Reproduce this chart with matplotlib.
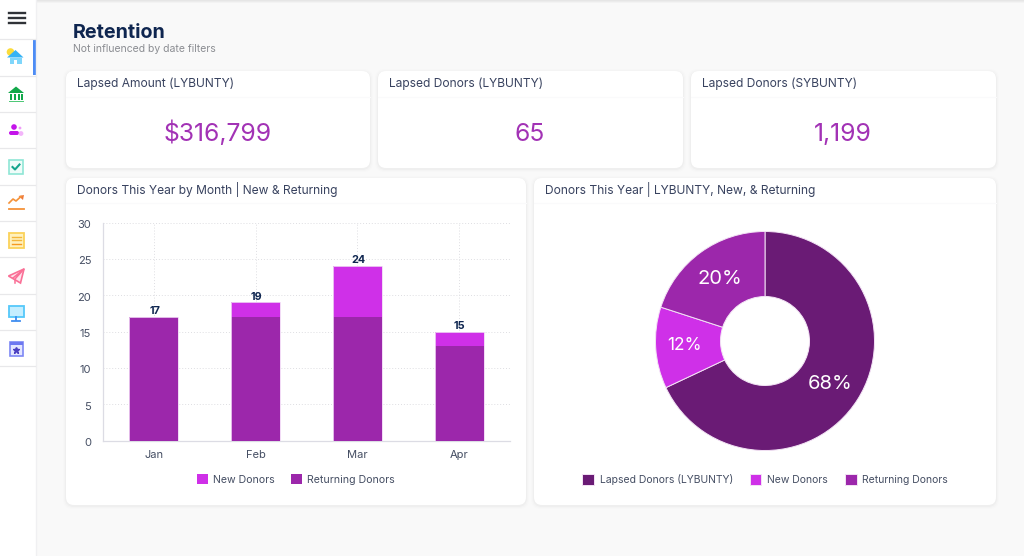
"""Retention dashboard: KPI cards, stacked bars by month and a donut."""
import matplotlib
matplotlib.use('Agg')
from matplotlib import pyplot as plt
from matplotlib.patches import Circle, FancyBboxPatch, Polygon, Rectangle
from matplotlib.transforms import ScaledTranslation
import numpy as np

W, H = 1024, 556

months = ['Jan', 'Feb', 'Mar', 'Apr']
returning_donors = [17, 17, 17, 13]
new_donors = [0, 2, 7, 2]
y_ticks = [0, 5, 10, 15, 20, 25, 30]

donut_labels = ['Lapsed Donors (LYBUNTY)', 'New Donors', 'Returning Donors']
donut_values = [68, 12, 20]

kpi_titles = ['Lapsed Amount (LYBUNTY)', 'Lapsed Donors (LYBUNTY)', 'Lapsed Donors (SYBUNTY)']
kpi_values = ['$316,799', '65', '1,199']

DARK = '#6a1b75'
MID = '#9c27ab'
LIGHT = '#cf30e8'
NAVY = '#0f2650'
TITLE = '#38425f'
TICK = '#454e63'

plt.rcParams['font.family'] = ['Inter', 'DejaVu Sans']


def px_axes(fig, left, top, right, bottom):
    """Axes placed with pixel edges measured from the top left of the figure."""
    return fig.add_axes([left / W, 1 - bottom / H, (right - left) / W, (bottom - top) / H])


def card(bg, left, top, right, bottom, title, line_y):
    for grow, alpha in ((3, 0.008), (2, 0.012), (1, 0.018)):
        bg.add_patch(FancyBboxPatch((left - grow, top - grow + 1), right - left + 2 * grow,
                                    bottom - top + 2 * grow,
                                    boxstyle='round,pad=0,rounding_size=9', fc='#000000',
                                    ec='none', alpha=alpha))
    bg.add_patch(FancyBboxPatch((left, top), right - left, bottom - top,
                                boxstyle='round,pad=0,rounding_size=8', fc='white', ec='none'))
    bg.plot([left, right], [line_y, line_y], color='#fafafb', lw=0.8)
    bg.text(left + 11, line_y - 13.5, title, fontsize=8.65, color=TITLE, va='center')


def draw_sidebar(bg):
    bg.add_patch(Rectangle((0, 0), 35.5, H, fc='white', ec='none'))
    bg.plot([36, 36], [0, H], color='#f0f0f2', lw=1)
    for y in [39, 76, 112, 148, 185, 221, 257, 294, 330, 366]:
        bg.plot([0, 35], [y, y], color='#e8e8ea', lw=0.9)
    bg.add_patch(Rectangle((33.4, 40), 2.1, 35, fc='#4d8cf5', ec='none'))
    for y in (12.5, 17.5, 22.5):
        bg.plot([9, 25], [y, y], color='#303338', lw=1.7)

    # home
    bg.add_patch(Circle((10.5, 52), 3.8, fc='#fbdc3c', ec='none'))
    bg.add_patch(Polygon([(7, 57.5), (15.5, 50), (23.5, 57.5)], fc='#36b3f5', ec='none'))
    bg.add_patch(Rectangle((9.5, 57.5), 12, 6.5, fc='#7fd6fb', ec='none'))
    bg.add_patch(Rectangle((14, 59.5), 2.5, 4.5, fc='white', ec='none'))
    # bank
    bg.add_patch(Polygon([(8, 93), (16, 86.5), (24, 93)], fc='#12a84a', ec='none'))
    for x in (10, 14, 18, 21):
        bg.add_patch(Rectangle((x, 94), 1.5, 5.5, fc='#12a84a', ec='none'))
    bg.add_patch(Rectangle((8.5, 100.5), 15, 1.5, fc='#4fc878', ec='none'))
    # people
    bg.add_patch(Circle((14, 127), 2.8, fc='#c414ea', ec='none'))
    bg.add_patch(FancyBboxPatch((9, 131), 10, 4, boxstyle='round,pad=0,rounding_size=2',
                                fc='#c414ea', ec='none'))
    bg.add_patch(Circle((20, 128), 1.4, fc='#ef9df8', ec='none'))
    bg.add_patch(Circle((21, 133.5), 2.4, fc='#f3b5fa', ec='none'))
    # checklist
    bg.add_patch(Rectangle((9, 160), 14, 14, fc='#effcf9', ec='#8fe6d6', lw=1.2))
    bg.plot([12.5, 15, 19.5], [167, 169.5, 164.5], color='#14a58d', lw=1.5)
    # trend
    bg.plot([9, 13, 16, 21], [203, 199, 201, 196.5], color='#f59238', lw=1.2)
    bg.add_patch(Polygon([(18.5, 196), (24, 195), (23, 200)], fc='#ee7a3a', ec='none'))
    bg.plot([8.5, 24], [209, 209], color='#f59238', lw=1.3)
    # report
    bg.add_patch(Rectangle((9, 232.5), 15, 15, fc='#fff1bd', ec='#fbd25a', lw=1.3))
    for y, color in ((236.5, '#f4b63a'), (240, '#f4b63a'), (243.5, '#f59a20')):
        bg.plot([12, 21], [y, y], color=color, lw=1)
    # paper plane
    bg.add_patch(Polygon([(8.5, 276), (24, 269), (20.5, 283)], fc='#ffe3ec', ec='#fa6f96', lw=1.2))
    bg.plot([13, 24, 15, 15], [278, 269, 279, 283], color='#fa6f96', lw=1.1)
    # monitor
    bg.add_patch(Rectangle((8.5, 306), 15.5, 11, fc='#c4eeff', ec='#55c8fa', lw=1.3))
    bg.plot([16, 16], [317, 320], color='#3f8df0', lw=1.3)
    bg.plot([12, 20], [320.5, 320.5], color='#3f8df0', lw=1.3)
    # calendar
    bg.add_patch(Rectangle((9.5, 342), 13.5, 14, fc='#e3e6ff', ec='#7d88f5', lw=1.2))
    bg.add_patch(Rectangle((9.5, 342), 13.5, 3, fc='#6d78f0', ec='none'))
    bg.plot([16], [350], marker='*', color='#4b3fc0', ms=5)


fig = plt.figure(figsize=(W / 100, H / 100), dpi=100, facecolor='#f9f9f9')

bg = fig.add_axes([0, 0, 1, 1])
bg.axis('off')
bg.imshow(np.linspace(0.9, 0.976, 4).reshape(-1, 1), extent=(0, W, 4, 0), cmap='gray',
          vmin=0, vmax=1, aspect='auto', zorder=0)
bg.set_xlim(0, W)
bg.set_ylim(H, 0)

draw_sidebar(bg)

bg.text(73, 32.5, 'Retention', fontsize=14.2, fontweight='bold', color=NAVY, va='center')
bg.text(73, 49.5, 'Not influenced by date filters', fontsize=7.5, color='#8b8d92', va='center')

kpi_edges = [(66, 370), (378, 683), (691, 996)]
for (left, right), title, value in zip(kpi_edges, kpi_titles, kpi_values):
    card(bg, left, 71, right, 168, title, 97)
    bg.text((left + right) / 2 - 0.5, 141, value, fontsize=17.8, color='#a232b5',
            ha='center', va='baseline')

card(bg, 66, 178, 526, 505, 'Donors This Year by Month | New & Returning', 203)
card(bg, 534, 178, 996, 505, 'Donors This Year | LYBUNTY, New, & Returning', 203)

# stacked bars
ax = px_axes(fig, 103, 222.5, 510, 440.5)
ax.patch.set_alpha(0)
x = np.arange(len(months))
totals = [ret + new for ret, new in zip(returning_donors, new_donors)]
bars_ret = ax.bar(x, returning_donors, width=0.48, color=MID, zorder=3, label='Returning Donors')
bars_new = ax.bar(x, new_donors, bottom=returning_donors, width=0.48, color=LIGHT, zorder=3,
                  label='New Donors')
ax.bar(x, totals, width=0.48, fill=False, edgecolor='#f0d5f5', linewidth=0.6, zorder=3)
for i, total in enumerate(totals):
    ax.annotate(str(total), (i, total), xytext=(0.5, 0.6), textcoords='offset points',
                ha='center', va='bottom', fontsize=7.8, fontweight='bold', color=NAVY, zorder=4)
ax.set_xlim(-0.5, 3.5)
ax.set_ylim(0, 30)
ax.set_xticks(x, months)
ax.set_yticks(y_ticks)
ax.grid(True, color='#dedee2', linestyle=(0, (1, 2)), linewidth=0.7, zorder=0)
ax.tick_params(length=0, labelsize=8, labelcolor=TICK, pad=8.5)
ax.tick_params(axis='x', pad=6.5)
drop = ScaledTranslation(0, -1.5 / 100, fig.dpi_scale_trans)
for label in ax.get_yticklabels():
    label.set_transform(label.get_transform() + drop)
for side in ('top', 'right'):
    ax.spines[side].set_visible(False)
for side in ('left', 'bottom'):
    ax.spines[side].set_color('#dcdce4')
    ax.spines[side].set_linewidth(0.9)
ax.legend(handles=[bars_new, bars_ret], loc='center', ncol=2, frameon=False,
          bbox_to_anchor=((296 - 103) / 407, (440.5 - 479.5) / 218), fontsize=7.6,
          labelcolor=TICK, handlelength=1.05, handleheight=1.05, handletextpad=0.5,
          columnspacing=1.5)

# donut
cx, cy, radius = 765, 341, 109.5
ax2 = px_axes(fig, cx - radius, cy - radius, cx + radius, cy + radius)
wedges, _, autotexts = ax2.pie(donut_values, colors=[DARK, LIGHT, MID], startangle=90,
                               counterclock=False, radius=1, autopct='%d%%', pctdistance=0.70,
                               wedgeprops=dict(width=65 / 109.5, edgecolor='#f3e3f5', linewidth=0.7),
                               textprops=dict(color='white', fontsize=14.5))
ax2.set_xlim(-1, 1)
ax2.set_ylim(-1, 1)
for wedge in wedges:
    wedge.set_clip_on(False)
autotexts[0].set_position((autotexts[0].get_position()[0], autotexts[0].get_position()[1] - 0.015))
autotexts[1].set_fontsize(12.5)
autotexts[1].set_position((autotexts[1].get_position()[0] - 0.035, autotexts[1].get_position()[1]))
fig.legend(handles=wedges, labels=donut_labels, loc='center', ncol=3, frameon=False,
           bbox_to_anchor=(765 / W, 1 - 479.5 / H), fontsize=7.5, labelcolor=TICK,
           handlelength=1.15, handleheight=1.15, handletextpad=0.55, columnspacing=1.6)

fig.savefig('out.png', dpi=100, facecolor=fig.get_facecolor())
